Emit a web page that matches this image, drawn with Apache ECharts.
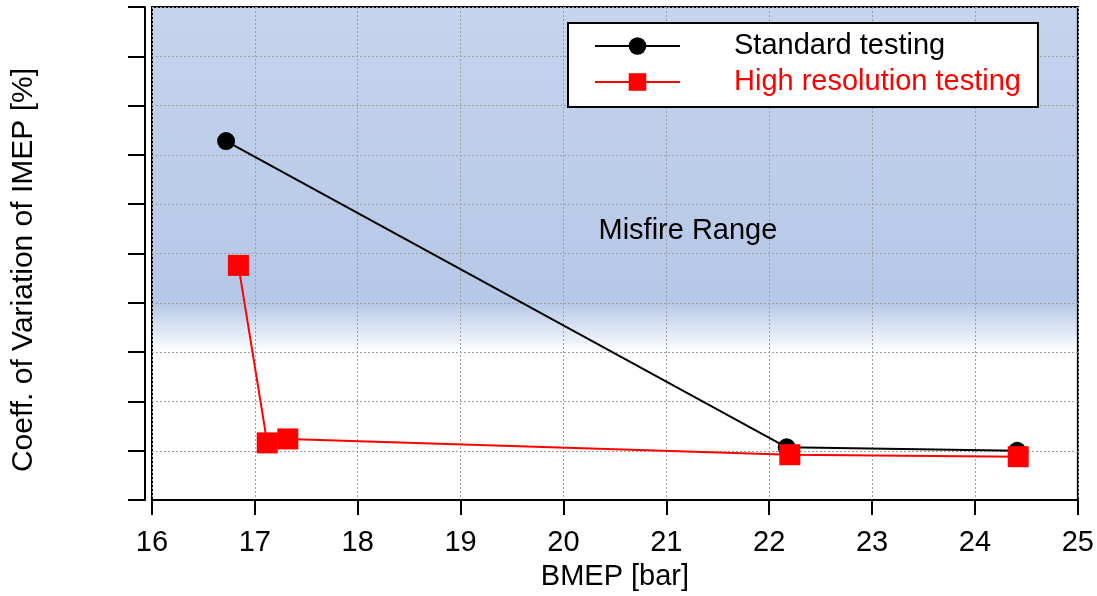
<!DOCTYPE html>
<html>
<head>
<meta charset="utf-8">
<script src="https://cdn.jsdelivr.net/npm/echarts@6/dist/echarts.min.js"></script>
<style>
html,body{margin:0;padding:0;background:#fff;}
#main{width:1097px;height:596px;}
</style>
</head>
<body>
<div id="main"></div>
<script>
// ---- data ----
var xTicks = [16, 17, 18, 19, 20, 21, 22, 23, 24, 25];
var standardX = [16.72, 22.17, 24.41];
var standardY = [7.28, 1.07, 1.0];
var highResX = [16.84, 17.12, 17.32, 22.20, 24.42];
var highResY = [4.76, 1.16, 1.24, 0.92, 0.88];
var annotationText = 'Misfire Range';
var annotationPos = [20.34, 5.46];
var seriesNames = ['Standard testing', 'High resolution testing'];
var xName = 'BMEP [bar]';
var yName = 'Coeff. of Variation of IMEP [%]';

function pairs(xs, ys) { return xs.map(function (x, i) { return [x, ys[i]]; }); }

var FONT = '"Liberation Sans", Arial, sans-serif';
var chart = echarts.init(document.getElementById('main'), null, { renderer: 'canvas' });

chart.setOption({
  animation: false,
  textStyle: { fontFamily: FONT },
  grid: {
    left: 152, right: 17, top: 7, height: 496,
    show: true,
    borderColor: '#000', borderWidth: 2,
    backgroundColor: {
      type: 'linear', x: 0, y: 0, x2: 0, y2: 1,
      colorStops: [
        { offset: 0, color: '#c6d4ed' },
        { offset: 0.6, color: '#b5c8e7' },
        { offset: 0.7, color: '#ffffff' },
        { offset: 1, color: '#ffffff' }
      ]
    }
  },
  legend: {
    orient: 'vertical',
    left: 568, top: 23,
    padding: [8, 17, 10, 26],
    backgroundColor: '#fff',
    borderColor: '#000', borderWidth: 2,
    itemWidth: 85, itemHeight: 22, itemGap: 6,
    selectedMode: false,
    textStyle: { fontSize: 29, fontFamily: FONT, lineHeight: 30, padding: [0, 0, 0, 49] },
    data: [
      { name: seriesNames[0], textStyle: { color: '#000' } },
      { name: seriesNames[1], textStyle: { color: '#ff0000' } }
    ]
  },
  xAxis: {
    type: 'value', min: xTicks[0], max: xTicks[xTicks.length - 1], interval: 1,
    offset: 7,
    name: xName, nameLocation: 'middle', nameGap: 54,
    nameTextStyle: { fontSize: 29, color: '#000', fontFamily: FONT },
    axisLine: { show: true, lineStyle: { color: '#000', width: 2 } },
    axisTick: { show: true, length: 15, lineStyle: { color: '#000', width: 2 } },
    axisLabel: { fontSize: 29, color: '#000', margin: 21, fontFamily: FONT },
    splitLine: { show: true, lineStyle: { color: '#a0a0a0', width: 1, type: [2, 2] } }
  },
  yAxis: {
    type: 'value', min: 0, max: 10, interval: 1,
    offset: 7,
    name: yName, nameLocation: 'middle', nameGap: 106, nameRotate: 90,
    nameTextStyle: { fontSize: 30, color: '#000', fontFamily: FONT, padding: [0, 33, 0, 0] },
    axisLine: { show: true, lineStyle: { color: '#000', width: 2 } },
    axisTick: { show: true, length: 17, lineStyle: { color: '#000', width: 2 } },
    axisLabel: { show: false },
    splitLine: { show: true, lineStyle: { color: '#a0a0a0', width: 1, type: [2, 2] } }
  },
  series: [
    {
      name: seriesNames[0], type: 'line',
      data: pairs(standardX, standardY),
      symbol: 'circle', symbolSize: 18,
      lineStyle: { color: '#000', width: 2 },
      itemStyle: { color: '#000' },
      z: 3,
      markPoint: {
        symbol: 'circle', symbolSize: 0,
        label: {
          show: true, position: 'right', distance: 0,
          formatter: annotationText,
          fontSize: 29, color: '#000', fontFamily: FONT
        },
        data: [{ coord: annotationPos }]
      }
    },
    {
      name: seriesNames[1], type: 'line',
      data: pairs(highResX, highResY),
      symbol: 'rect', symbolSize: 21,
      lineStyle: { color: '#ff0000', width: 2 },
      itemStyle: { color: '#ff0000' },
      z: 4
    }
  ]
});
</script>
</body>
</html>
